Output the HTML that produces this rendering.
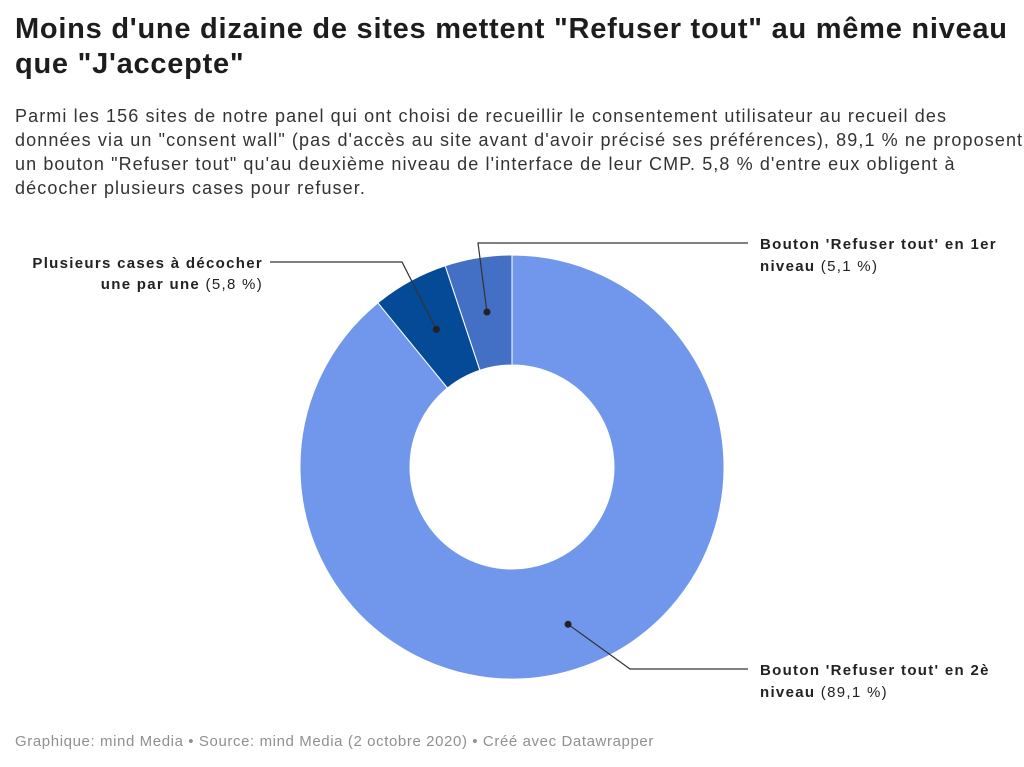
<!DOCTYPE html>
<html><head><meta charset="utf-8"><style>
body{margin:0;width:1024px;height:767px;background:#fff;font-family:"Liberation Sans",sans-serif;overflow:hidden;position:relative}
h1{position:absolute;left:15px;top:12px;margin:0;font-size:29px;line-height:35px;font-weight:bold;color:#1d1d1d;letter-spacing:0.75px;white-space:nowrap}
.sub{position:absolute;left:15px;top:104px;width:1005px;font-size:18px;line-height:24px;color:#333;letter-spacing:1.1px;white-space:nowrap}
.foot{position:absolute;left:15px;top:733px;font-size:15px;color:#909090;letter-spacing:0.6px}
svg{position:absolute;left:0;top:0}
</style></head><body>
<h1>Moins d'une dizaine de sites mettent "Refuser tout" au même niveau<br>que "J'accepte"</h1>
<div class="sub">Parmi les 156 sites de notre panel qui ont choisi de recueillir le consentement utilisateur au recueil des<br>données via un "consent wall" (pas d'accès au site avant d'avoir précisé ses préférences), 89,1 % ne proposent<br>un bouton "Refuser tout" qu'au deuxième niveau de l'interface de leur CMP. 5,8 % d'entre eux obligent à<br>décocher plusieurs cases pour refuser.</div>
<svg id="chart" width="1024" height="767"></svg>
<div class="foot">Graphique: mind Media • Source: mind Media (2 octobre 2020) • Créé avec Datawrapper</div>
<script>
const categories=["Bouton 'Refuser tout' en 2è niveau","Plusieurs cases à décocher une par une","Bouton 'Refuser tout' en 1er niveau"];
const values=[89.1,5.8,5.1];
const valueLabels=["89,1 %","5,8 %","5,1 %"];
const colors=["#7097ec","#044a96","#4370c4"];
const svg=document.getElementById('chart');
const NS="http://www.w3.org/2000/svg";
const cx=512,cy=467,R=212,r=102;
const total=values.reduce((a,b)=>a+b,0);
function pt(a,rad){return [cx+rad*Math.sin(a),cy-rad*Math.cos(a)];}
let a0=0;const mids=[];
values.forEach((v,i)=>{
  const a1=a0+v/total*2*Math.PI;
  const [x0,y0]=pt(a0,R),[x1,y1]=pt(a1,R),[x2,y2]=pt(a1,r),[x3,y3]=pt(a0,r);
  const lg=(a1-a0)>Math.PI?1:0;
  const p=document.createElementNS(NS,'path');
  p.setAttribute('d',`M${x0},${y0}A${R},${R} 0 ${lg} 1 ${x1},${y1}L${x2},${y2}A${r},${r} 0 ${lg} 0 ${x3},${y3}Z`);
  p.setAttribute('fill',colors[i]);p.setAttribute('stroke','#fff');p.setAttribute('stroke-width','1');
  
  
  svg.appendChild(p);
  mids.push((a0+a1)/2);a0=a1;
});
const labelDefs=[
 {bend:[630,669],end:[748,669],tx:760,ty:[675,697],anchor:'start'},
 {bend:[402,262],end:[270,262],tx:263,ty:[268,289],anchor:'end'},
 {bend:[478,243],end:[748,243],tx:760,ty:[249,271],anchor:'start'}
];
const nameLines=[["Bouton 'Refuser tout' en 2è","niveau"],["Plusieurs cases à décocher","une par une"],["Bouton 'Refuser tout' en 1er","niveau"]];
labelDefs.forEach((d,i)=>{
  const rr=i==0?(R+r)/2+10:(R+r)/2;
  const [px,py]=pt(mids[i],rr);
  const l=document.createElementNS(NS,'polyline');
  l.setAttribute('points',`${px},${py} ${d.bend[0]},${d.bend[1]} ${d.end[0]},${d.end[1]}`);
  l.setAttribute('fill','none');l.setAttribute('stroke','#333');l.setAttribute('stroke-width','1.2');
  
  
  svg.appendChild(l);
  const c=document.createElementNS(NS,'circle');
  c.setAttribute('cx',px);c.setAttribute('cy',py);c.setAttribute('r','3.5');c.setAttribute('fill','#222');
  
  
  svg.appendChild(c);
  const t=document.createElementNS(NS,'text');
  t.setAttribute('text-anchor',d.anchor);t.setAttribute('font-size','15');t.setAttribute('fill','#222');
  t.setAttribute('letter-spacing','1.3');
  t.setAttribute('font-family','"Liberation Sans",sans-serif');
  
  
  t.innerHTML=`<tspan x="${d.tx}" y="${d.ty[0]}" font-weight="bold">${nameLines[i][0]}</tspan><tspan x="${d.tx}" y="${d.ty[1]}"><tspan font-weight="bold">${nameLines[i][1]}</tspan> (${valueLabels[i]})</tspan>`;
  svg.appendChild(t);
});
</script>
</body></html>
